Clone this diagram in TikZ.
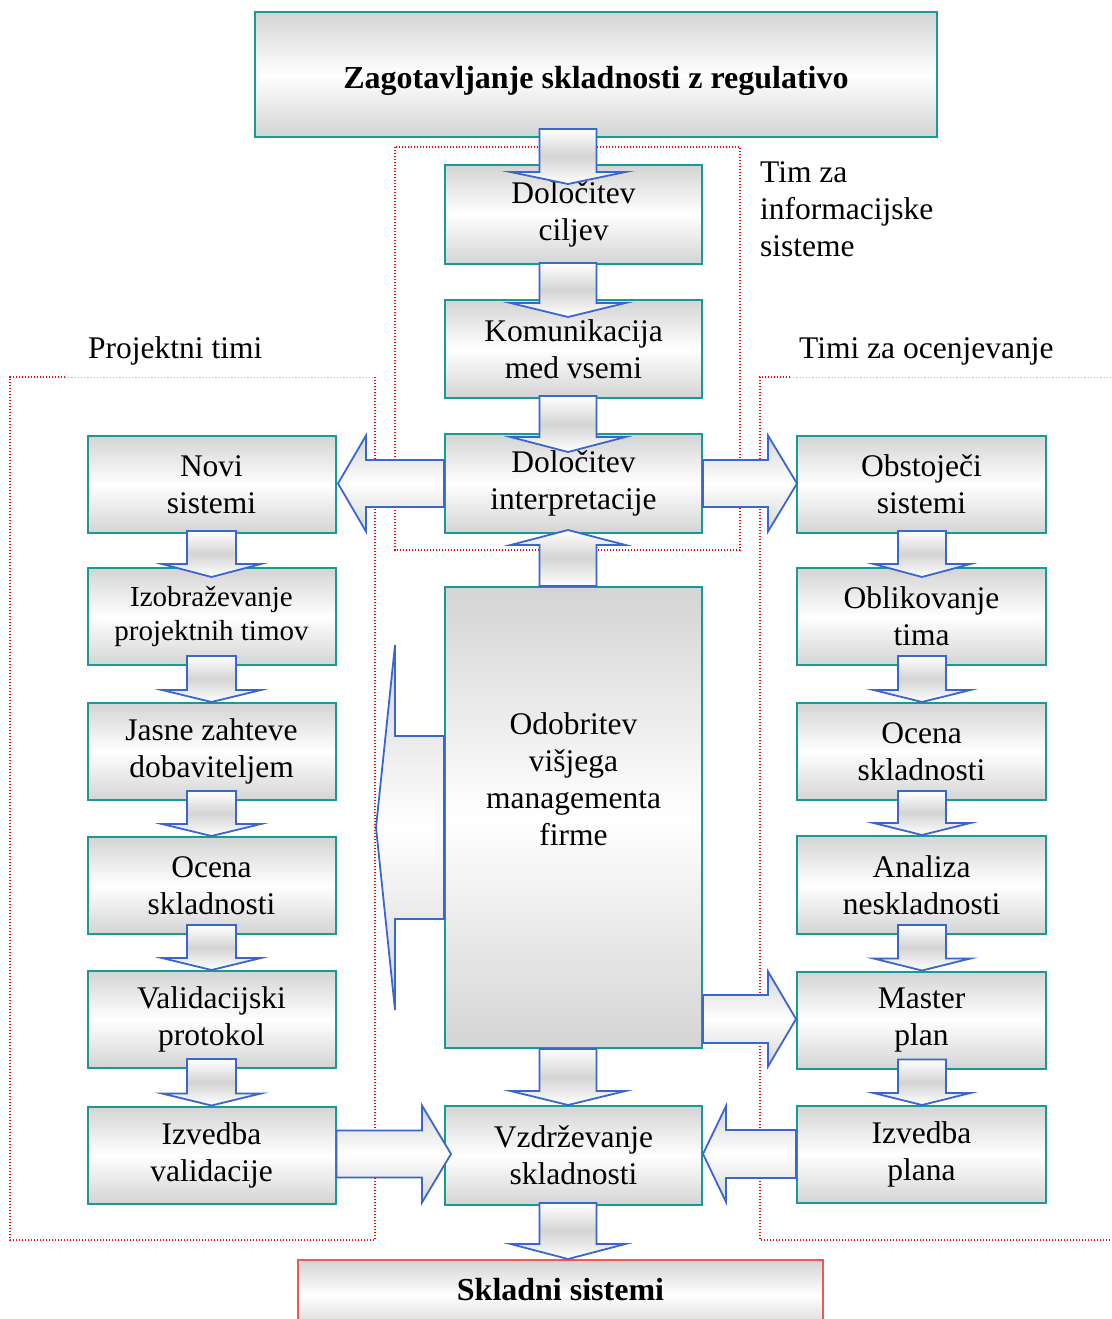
\documentclass[tikz,border=0pt]{standalone}
\usepackage{fontspec}
\setmainfont{Liberation Serif}
\usetikzlibrary{calc}
\definecolor{tealb}{RGB}{24,154,150}
\definecolor{ablue}{RGB}{58,102,208}
\definecolor{bgray}{RGB}{212,212,212}
\definecolor{sred}{RGB}{240,88,88}
\newcommand\bigfont{\fontsize{31.5}{37}\selectfont}
\newcommand\midfont{\fontsize{29}{34}\selectfont}
\newcommand\ttlfont{\fontsize{32}{38}\selectfont\bfseries}
% block arrow pointing down: from anchor, to anchor, x centre, half shaft, half wing, shaft start, head base, tip
\newcommand\ADown[8]{%
 \path[varrow] let \p1=(#1), \p2=(#2) in
  ({#3pt-#4pt},{\y1+(#6pt)}) -- ({#3pt+#4pt},{\y1+(#6pt)}) -- ({#3pt+#4pt},{\y2+(#7pt)})
  -- ({#3pt+#5pt},{\y2+(#7pt)}) -- (#3pt,{\y2-(#8pt)}) -- ({#3pt-#5pt},{\y2+(#7pt)})
  -- ({#3pt-#4pt},{\y2+(#7pt)}) -- cycle;}
% block arrow pointing up
\newcommand\AUp[8]{%
 \path[varrow] let \p1=(#1), \p2=(#2) in
  ({#3pt-#4pt},{\y1-(#6pt)}) -- ({#3pt+#4pt},{\y1-(#6pt)}) -- ({#3pt+#4pt},{\y2-(#7pt)})
  -- ({#3pt+#5pt},{\y2-(#7pt)}) -- (#3pt,{\y2+(#8pt)}) -- ({#3pt-#5pt},{\y2-(#7pt)})
  -- ({#3pt-#4pt},{\y2-(#7pt)}) -- cycle;}
% block arrow pointing right: from, to, y centre, half shaft, half wing, head base, tip
\newcommand\ARight[7]{%
 \path[harrow] let \p1=(#1), \p2=(#2) in
  (\x1,{-#3pt+#4pt}) -- ({\x2-(#6pt)},{-#3pt+#4pt}) -- ({\x2-(#6pt)},{-#3pt+#5pt})
  -- ({\x2+(#7pt)},-#3pt) -- ({\x2-(#6pt)},{-#3pt-#5pt}) -- ({\x2-(#6pt)},{-#3pt-#4pt})
  -- (\x1,{-#3pt-#4pt}) -- cycle;}
\newcommand\ALeft[7]{%
 \path[harrow] let \p1=(#1), \p2=(#2) in
  (\x1,{-#3pt+#4pt}) -- ({\x2+(#6pt)},{-#3pt+#4pt}) -- ({\x2+(#6pt)},{-#3pt+#5pt})
  -- ({\x2-(#7pt)},-#3pt) -- ({\x2+(#6pt)},{-#3pt-#5pt}) -- ({\x2+(#6pt)},{-#3pt-#4pt})
  -- (\x1,{-#3pt-#4pt}) -- cycle;}
\begin{document}
\begin{tikzpicture}[x=1pt,y=-1pt,
  box/.style={draw=tealb, line width=2pt, top color=bgray, bottom color=bgray, middle color=white,
    inner sep=0pt, align=center, font=\bigfont},
  cbox/.style={box, minimum width=257pt, minimum height=99pt},
  sbox/.style={box, minimum width=248pt, minimum height=97pt},
  rbox/.style={box, minimum width=249pt, minimum height=97pt},
  varrow/.style={draw=ablue, line width=1.8pt, top color=white, bottom color=white, middle color=bgray},
  harrow/.style={draw=ablue, line width=1.8pt, top color=bgray, bottom color=bgray, middle color=white},
  grp/.style={draw=red, line width=1.4pt, dash pattern=on 1.4pt off 1.6pt},
  grplight/.style={draw=red!40, line width=1pt, dash pattern=on 1.2pt off 2pt},
  lbl/.style={font=\bigfont, inner sep=0pt, text=black}]
\useasboundingbox (0,0) rectangle (1111,1319);

% group frames
\draw[grp] (395,147) rectangle (740,550);
\draw[grp] (65,377) -| (10,1240) -| (375,377);
\draw[grplight] (65,377) -- (375,377);
\draw[grp] (790,377) -| (760,1240) -- (1115,1240);
\draw[grplight] (790,377) -- (1115,377);

% labels
\node[lbl, anchor=north west, align=left] (timis) at (760,161.5) {Tim za\\informacijske\\sisteme};
\node[lbl, anchor=base west] (projt) at (88,358) {Projektni timi};
\node[lbl, anchor=base west] (ocent) at (799,358) {Timi za ocenjevanje};

% boxes
\node[box, minimum width=682pt, minimum height=125pt, font=\ttlfont] (top) at (596,74.5)
  {\raisebox{-14.5pt}[0pt][0pt]{Zagotavljanje skladnosti z regulativo}};
\node[cbox] (ciljev) at (573.5,214.5) {Določitev\\ciljev};
\node[cbox, minimum height=98pt] (komun) at (573.5,349) {Komunikacija\\med vsemi};
\node[cbox] (interp) at (573.5,483.5) {Določitev\\interpretacije};
\node[cbox, minimum height=461pt] (odob) at (573.5,817.5) {};
\node[font=\bigfont, align=center, inner sep=0pt] (odobtxt) at (573.5,779.5) {Odobritev\\višjega\\managementa\\firme};
\node[cbox] (vzdr) at (573.5,1155.5) {Vzdrževanje\\skladnosti};
\node[box, draw=sred, minimum width=525pt, minimum height=70pt, font=\ttlfont] (skladni) at (560.5,1295)
  {\raisebox{-5pt}[0pt][0pt]{Skladni sistemi}};

\node[sbox] (novi) at (211.5,484.5) {Novi\\sistemi};
\node[sbox, font=\midfont] (izob) at (211.5,616.5) {Izobraževanje\\projektnih timov};
\node[sbox] (jasne) at (211.5,751.5) {Jasne zahteve\\dobaviteljem};
\node[sbox] (ocenal) at (211.5,885.5) {Ocena\\skladnosti};
\node[sbox] (valid) at (211.5,1019.5) {Validacijski\\protokol};
\node[sbox] (izvval) at (211.5,1155) {Izvedba\\validacije};

\node[rbox] (obst) at (921.5,484.5) {Obstoječi\\sistemi};
\node[rbox] (oblik) at (921.5,616.5) {Oblikovanje\\tima};
\node[rbox] (ocenar) at (921.5,751.5) {Ocena\\skladnosti};
\node[rbox, minimum height=98pt] (analiza) at (921.5,885) {Analiza\\neskladnosti};
\node[rbox] (master) at (921.5,1020) {Master\\plan};
\node[rbox] (izvplan) at (921.5,1154.5) {Izvedba\\plana};

\coordinate (bigtip) at (376,827.5);

% centre column arrows
\ADown{top.south}{ciljev.north}{568}{28.5}{57.5}{9}{-8}{20}
\ADown{ciljev.south}{komun.north}{568}{28.5}{57.5}{2}{-4}{18}
\ADown{komun.south}{interp.north}{568}{28.5}{57.5}{3}{-4}{19}
\AUp{odob.north}{interp.south}{568}{28.5}{57.5}{0}{11}{4}
\ADown{odob.south}{vzdr.north}{568}{28.5}{57.5}{0}{14}{0}
\ADown{vzdr.south}{skladni.north}{568}{28.5}{57.5}{3}{15}{0}

% left column arrows
\ADown{novi.south}{izob.north}{211.5}{24.5}{49.5}{3}{3}{10}
\ADown{izob.south}{jasne.north}{211.5}{24.5}{49.5}{10}{12}{0}
\ADown{jasne.south}{ocenal.north}{211.5}{24.5}{49.5}{10}{12}{0}
\ADown{ocenal.south}{valid.north}{211.5}{24.5}{49.5}{10}{12}{0}
\ADown{valid.south}{izvval.north}{211.5}{24.5}{49.5}{10}{12}{0}

% right column arrows
\ADown{obst.south}{oblik.north}{922}{24}{48.5}{3}{3}{10}
\ADown{oblik.south}{ocenar.north}{922}{24}{48.5}{10}{12}{0}
\ADown{ocenar.south}{analiza.north}{922}{24}{48.5}{10}{12}{0}
\ADown{analiza.south}{master.north}{922}{24}{48.5}{10}{12}{0}
\ADown{master.south}{izvplan.north}{922}{24}{48.5}{10}{12}{0}

% horizontal arrows
\ARight{interp.east}{obst.west}{483.5}{23.5}{48}{28}{1}
\ALeft{interp.west}{novi.east}{483.5}{23.5}{48}{29.5}{-1.5}
\ARight{odob.east}{master.west}{1019}{24}{47.5}{28}{0}
\ARight{izvval.east}{vzdr.west}{1154}{23.5}{48.5}{22}{7}
\ALeft{izvplan.west}{vzdr.east}{1154}{24}{48}{23}{0}
\ALeft{odob.west}{bigtip}{827.5}{91.5}{182.5}{19}{0}
\end{tikzpicture}
\end{document}
